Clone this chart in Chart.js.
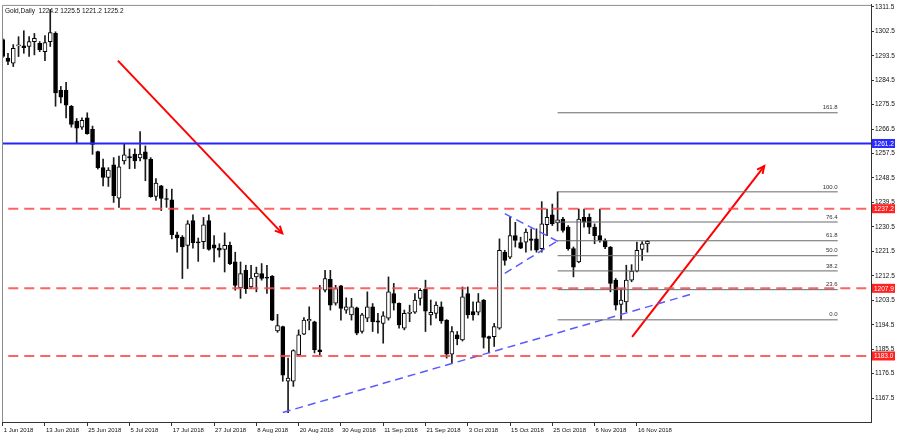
<!DOCTYPE html>
<html>
<head>
<meta charset="utf-8">
<title>Gold, Daily</title>
<script src="https://cdn.jsdelivr.net/npm/chart.js@4.4.1/dist/chart.umd.min.js"></script>
<style>
  body { margin: 0; background: #fff; }
  canvas { display: block; }
</style>
</head>
<body>
<canvas id="myChart" width="906" height="444"></canvas>
<script>
// daily candles, 1 Jun 2018 .. 20 Nov 2018 (bar index = trading day)
const opens = [1299.4,1292.6,1290.8,1297.1,1297.1,1296.9,1298.7,1298.1,1295.0,1298.7,
  1301.7,1280.8,1280.8,1274.9,1269.4,1267.2,1270.6,1266.4,1258.2,1252.3,
  1248.7,1253.3,1241.1,1254.8,1256.4,1257.3,1255.9,1258.1,1255.4,1241.7,
  1245.6,1240.8,1240.5,1227.6,1226.7,1223.7,1232.8,1224.8,1225.1,1232.8,
  1223.9,1222.7,1222.2,1223.7,1217.6,1208.1,1214.5,1208.4,1212.1,1213.3,
  1211.9,1212.4,1192.2,1193.8,1173.7,1173.7,1183.4,1191.0,1195.9,1195.6,
  1185.3,1207.2,1211.2,1202.4,1208.8,1199.9,1198.1,1200.7,1192.0,1196.9,
  1201.1,1195.9,1195.0,1196.9,1206.0,1202.4,1193.2,1198.7,1199.1,1204.2,
  1207.6,1198.1,1198.7,1201.1,1196.2,1183.7,1190.8,1188.9,1206.0,1199.3,
  1199.1,1203.6,1190.1,1190.1,1193.2,1221.2,1219.4,1227.3,1224.7,1224.9,
  1226.1,1226.1,1222.5,1231.3,1234.9,1232.0,1233.4,1230.4,1222.5,1217.6,
  1234.0,1234.0,1230.4,1227.3,1225.5,1223.1,1210.9,1202.0,1202.9,1210.9,
  1214.2,1222.2,1224.2];
const highs = [1299.8,1294.4,1297.6,1300.5,1302.7,1300.5,1301.7,1298.7,1300.9,1310.5,
  1302.3,1282.2,1283.7,1275.2,1270.4,1270.6,1272.5,1267.6,1258.4,1255.5,
  1252.3,1256.0,1256.6,1260.9,1259.2,1259.2,1265.6,1260.3,1256.0,1248.3,
  1245.8,1244.4,1244.4,1228.6,1227.3,1232.8,1234.9,1226.4,1234.0,1234.9,
  1227.3,1224.3,1228.3,1224.9,1221.2,1217.6,1216.4,1216.4,1215.7,1217.0,
  1216.4,1212.6,1198.3,1194.0,1182.2,1185.3,1192.6,1197.1,1201.1,1195.8,
  1209.0,1214.5,1214.5,1209.0,1209.0,1204.4,1204.2,1201.0,1198.7,1206.6,
  1202.3,1198.7,1199.3,1212.1,1209.7,1202.6,1199.9,1201.7,1206.0,1207.8,
  1210.9,1203.6,1202.9,1202.9,1196.4,1193.8,1192.0,1208.4,1208.4,1202.9,
  1206.0,1203.8,1190.3,1195.0,1226.1,1221.9,1234.0,1232.2,1226.7,1229.8,
  1229.8,1229.8,1239.8,1237.1,1238.9,1243.4,1234.0,1231.0,1223.1,1237.1,
  1237.1,1235.3,1231.6,1237.1,1226.1,1223.3,1211.5,1207.8,1216.4,1216.6,
  1224.9,1225.1,1225.5];
const lows = [1292.8,1290.2,1289.5,1293.2,1294.4,1293.2,1293.8,1295.0,1291.7,1296.9,
  1274.9,1276.1,1270.6,1267.2,1261.5,1266.4,1264.6,1257.2,1251.8,1245.6,
  1245.4,1239.5,1237.7,1253.6,1251.9,1252.0,1254.8,1247.5,1241.4,1240.2,
  1236.5,1237.7,1226.1,1221.2,1211.5,1215.2,1222.7,1217.8,1222.5,1221.9,
  1217.6,1219.4,1213.9,1216.6,1207.2,1204.2,1206.0,1207.8,1206.6,1210.9,
  1206.0,1196.0,1191.7,1173.7,1162.1,1171.8,1183.0,1190.8,1192.6,1184.1,
  1183.4,1206.6,1199.9,1201.7,1196.2,1198.7,1196.2,1190.8,1191.4,1195.6,
  1192.0,1191.4,1187.7,1196.2,1199.9,1193.2,1192.6,1195.6,1198.7,1201.7,
  1192.0,1194.4,1196.9,1195.0,1182.2,1180.4,1187.1,1188.5,1196.9,1196.2,
  1198.1,1185.9,1184.1,1186.5,1192.8,1216.4,1218.8,1223.1,1222.5,1221.2,
  1221.9,1221.2,1221.2,1227.3,1231.0,1229.0,1228.6,1221.9,1212.1,1217.3,
  1230.4,1228.0,1224.3,1224.9,1222.5,1206.6,1199.9,1196.3,1199.3,1210.3,
  1213.9,1218.2,1221.2];
const closes = [1293.2,1291.4,1296.2,1297.3,1296.5,1298.7,1299.9,1295.7,1298.3,1302.0,
  1279.8,1278.2,1275.3,1268.2,1266.8,1269.7,1264.8,1260.9,1252.3,1248.7,
  1251.4,1242.0,1252.6,1257.0,1255.9,1254.8,1257.3,1255.4,1241.6,1246.6,
  1241.0,1240.6,1227.6,1226.4,1223.1,1231.6,1224.7,1224.6,1231.3,1222.2,
  1222.7,1221.9,1223.7,1217.0,1209.0,1213.3,1207.8,1211.7,1213.5,1211.5,
  1211.6,1196.2,1194.2,1175.9,1174.9,1185.0,1190.8,1196.2,1196.5,1185.3,
  1184.6,1211.5,1201.7,1207.8,1200.5,1201.1,1201.1,1191.4,1198.1,1201.1,
  1195.6,1195.4,1197.8,1206.6,1202.4,1194.4,1198.7,1199.1,1203.6,1207.2,
  1199.5,1199.1,1201.7,1195.9,1183.7,1192.0,1189.3,1204.8,1198.1,1198.1,
  1202.9,1189.8,1189.5,1193.8,1221.9,1218.2,1227.3,1225.5,1222.7,1228.6,
  1225.5,1221.9,1231.6,1234.0,1231.6,1233.1,1229.2,1222.5,1215.7,1233.4,
  1232.2,1230.4,1227.3,1225.5,1223.1,1209.7,1201.7,1203.6,1210.9,1214.2,
  1221.9,1224.3,1225.2];

// time axis labels, one every 8 bars starting at bar 0
const dateLabels = ['1 Jun 2018','13 Jun 2018','25 Jun 2018','5 Jul 2018','17 Jul 2018',
  '27 Jul 2018','8 Aug 2018','20 Aug 2018','30 Aug 2018','11 Sep 2018','21 Sep 2018',
  '3 Oct 2018','15 Oct 2018','25 Oct 2018','6 Nov 2018','16 Nov 2018'];
const priceTicks = [1167.5,1176.5,1185.5,1194.5,1203.5,1212.5,1221.5,1230.5,1239.5,
  1248.5,1257.5,1266.5,1275.5,1284.5,1293.5,1302.5,1311.5];

// horizontal levels
const levelPrices = [1261.2, 1237.2, 1207.9, 1183.0];
const levelKinds = ['blue', 'red', 'red', 'red'];

// fibonacci retracement (26 Oct high -> 13 Nov low)
const fibLevels = ['161.8','100.0','76.4','61.8','50.0','38.2','23.6','0.0'];
const fibPrices = [1272.5, 1243.4, 1232.3, 1225.4, 1219.9, 1214.3, 1207.4, 1196.3];
const fibFrom = 105, fibTo = 158;

// drawn trend lines [bar, price]
const redArrow1 = [[21.8, 1291.7], [52.9, 1228.1]];
const redArrow2 = [[119.1, 1190.0], [144.1, 1252.9]];
const blueTrend = [[53.0, 1162.2], [130.4, 1205.8]];
const blueUpper = [[95.0, 1235.4], [105.4, 1224.8]];
const blueLower = [[95.0, 1213.4], [105.1, 1225.5]];

function setup() {
  const ctx = document.getElementById('myChart').getContext('2d');
  const up = opens.map((o, i) => closes[i] >= o);

  const datasets = [];
  datasets.push({
    label: 'wicks',
    data: lows.map((l, i) => ({ x: i, y: [l, highs[i]] })),
    backgroundColor: '#1a1a1a',
    borderWidth: 0,
    barThickness: 1,
    grouped: false,
    order: 10
  });
  datasets.push({
    label: 'bodies',
    data: opens.map((o, i) => ({ x: i, y: [o, closes[i]] })),
    backgroundColor: up.map(u => u ? '#ffffff' : '#000000'),
    borderColor: '#000000',
    borderWidth: 1,
    borderSkipped: false,
    barThickness: 4,
    minBarLength: 1,
    grouped: false,
    order: 9
  });

  const line = (pts, color, width, dash, extra) => Object.assign({
    type: 'line',
    data: pts.map(p => ({ x: p[0], y: p[1] })),
    borderColor: color,
    borderWidth: width,
    borderDash: dash,
    pointRadius: 0,
    fill: false,
    tension: 0,
    order: 1
  }, extra || {});

  fibPrices.forEach(p => datasets.push(line([[fibFrom, p], [fibTo, p]], '#6a6a6a', 1, [])));
  levelPrices.forEach((p, i) => {
    if (levelKinds[i] == 'blue') datasets.push(line([[-5, p], [170, p]], '#2424ff', 2, []));
    else datasets.push(line([[-5, p], [170, p]], 'rgba(255,70,70,0.85)', 2, [10, 6]));
  });
  datasets.push(line(blueTrend, '#5a5aff', 1.5, [8, 5]));
  datasets.push(line(blueUpper, '#5a5aff', 1.5, [8, 5]));
  datasets.push(line(blueLower, '#5a5aff', 1.5, [8, 5]));
  datasets.push(line(redArrow1, '#ff0000', 2, [], { arrow: true }));
  datasets.push(line(redArrow2, '#ff0000', 2, [], { arrow: true }));

  const overlay = {
    id: 'overlay',
    afterDatasetsDraw(chart) {
      const { ctx, chartArea: a, scales: { x, y } } = chart;
      ctx.save();
      // left / top frame
      ctx.strokeStyle = '#8c8c8c';
      ctx.lineWidth = 1;
      ctx.beginPath();
      ctx.moveTo(a.left + 0.5, a.bottom);
      ctx.lineTo(a.left + 0.5, a.top + 0.5);
      ctx.lineTo(a.right, a.top + 0.5);
      ctx.stroke();

      // fibonacci labels
      ctx.font = '6px "Liberation Sans"';
      ctx.fillStyle = '#333';
      ctx.textAlign = 'right';
      ctx.textBaseline = 'bottom';
      fibPrices.forEach((p, i) => {
        ctx.fillText(fibLevels[i], x.getPixelForValue(fibTo), y.getPixelForValue(p) - 2);
      });

      // arrow heads
      chart.data.datasets.forEach((ds, i) => {
        if (!ds.arrow) return;
        const pts = chart.getDatasetMeta(i).data;
        const p0 = pts[pts.length - 2], p1 = pts[pts.length - 1];
        const ang = Math.atan2(p1.y - p0.y, p1.x - p0.x);
        ctx.strokeStyle = ds.borderColor;
        ctx.lineWidth = 2;
        ctx.beginPath();
        ctx.moveTo(p1.x - 8 * Math.cos(ang - 0.45), p1.y - 8 * Math.sin(ang - 0.45));
        ctx.lineTo(p1.x, p1.y);
        ctx.lineTo(p1.x - 8 * Math.cos(ang + 0.45), p1.y - 8 * Math.sin(ang + 0.45));
        ctx.stroke();
      });

      // symbol header
      const n = closes.length - 1;
      ctx.font = '6.5px "Liberation Sans"';
      ctx.fillStyle = '#111';
      ctx.textAlign = 'left';
      ctx.textBaseline = 'middle';
      ctx.fillText('Gold,Daily  ' + [opens[n], highs[n], lows[n], closes[n]].map(v => v.toFixed(1)).join(' '),
        a.left + 3, a.top + 6);
      ctx.restore();
    },
    afterDraw(chart) {
      const { ctx, scales: { y } } = chart;
      ctx.save();
      ctx.font = '6.5px "Liberation Sans"';
      ctx.textAlign = 'left';
      ctx.textBaseline = 'middle';
      levelPrices.forEach((p, i) => {
        const py = y.getPixelForValue(p);
        ctx.fillStyle = levelKinds[i] == 'blue' ? '#2a2aff' : '#ff2020';
        ctx.fillRect(y.left + 1, py - 4.5, 23, 9);
        ctx.fillStyle = '#fff';
        ctx.fillText(p.toFixed(1), y.left + 3, py + 0.5);
      });
      ctx.restore();
    }
  };

  new Chart(ctx, {
    type: 'bar',
    data: { datasets: datasets },
    options: {
      responsive: false,
      animation: false,
      layout: { padding: { left: 2, top: 3, right: 0, bottom: 0 } },
      plugins: { legend: { display: false }, tooltip: { enabled: false } },
      scales: {
        x: {
          type: 'linear',
          min: -0.13,
          max: 164.3,
          offset: false,
          afterBuildTicks: s => { s.ticks = dateLabels.map((d, i) => ({ value: i * 8 })); },
          afterFit: s => { s.height = 22; },
          grid: { display: true, offset: false, drawOnChartArea: false, drawTicks: true, tickLength: 4, color: '#333' },
          border: { display: true, color: '#333' },
          ticks: {
            autoSkip: false,
            maxRotation: 0,
            align: 'start',
            labelOffset: 1,
            padding: 1,
            color: '#111',
            font: { family: 'Liberation Sans', size: 6 },
            callback: v => dateLabels[Math.round(v / 8)]
          }
        },
        y: {
          type: 'linear',
          position: 'right',
          min: 1158.7,
          max: 1312.2,
          afterBuildTicks: s => { s.ticks = priceTicks.map(v => ({ value: v })); },
          afterFit: s => { s.width = 35; },
          grid: { display: true, drawOnChartArea: false, drawTicks: true, tickLength: 3, color: '#333' },
          border: { display: true, color: '#333' },
          ticks: {
            autoSkip: false,
            padding: 1,
            color: '#111',
            font: { family: 'Liberation Sans', size: 6.5 },
            callback: v => v.toFixed(1)
          }
        }
      }
    },
    plugins: [overlay]
  });
}

setup();
</script>
</body>
</html>
